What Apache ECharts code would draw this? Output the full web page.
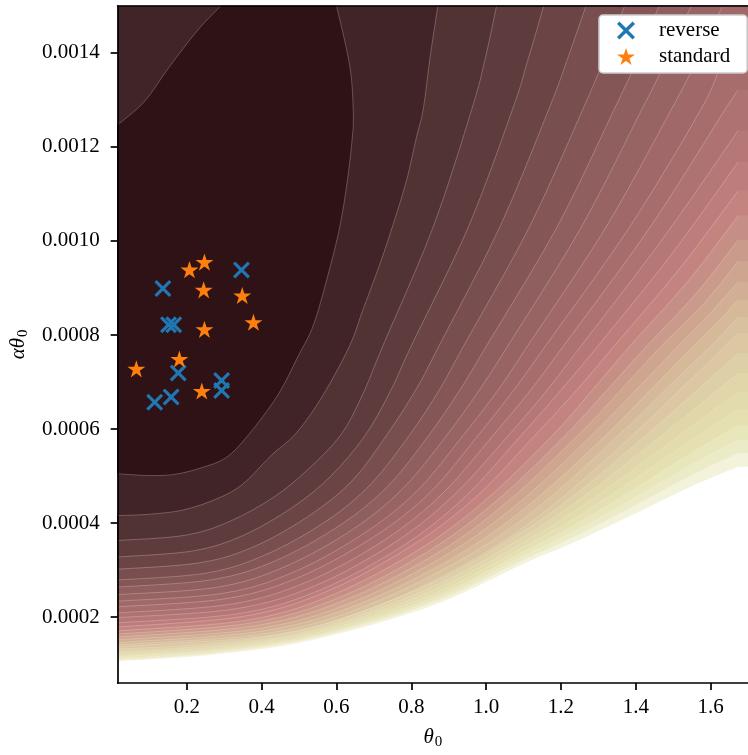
<!DOCTYPE html>
<html><head><meta charset="utf-8">
<script src="https://cdn.jsdelivr.net/npm/echarts@6/dist/echarts.min.js"></script>
<style>html,body{margin:0;padding:0;background:#fff}#c{width:748px;height:755px}</style>
</head><body><div id="c"></div>
<script>
// ---- tick labels ----
const xTicks = [0.2, 0.4, 0.6, 0.8, 1.0, 1.2, 1.4, 1.6];
const yTicks = [0.0002, 0.0004, 0.0006, 0.0008, 0.0010, 0.0012, 0.0014];

// ---- scatter points (theta0, alpha*theta0) ----
const reverseTheta = [0.136, 0.346, 0.151, 0.165, 0.177, 0.114, 0.158, 0.293, 0.293];
const reverseAlpha = [0.000899, 0.000938, 0.000822, 0.000822, 0.000719, 0.000657, 0.000668, 0.000703, 0.000682];
const standardTheta = [0.207, 0.247, 0.245, 0.348, 0.378, 0.247, 0.180, 0.065, 0.240];
const standardAlpha = [0.000939, 0.000955, 0.000896, 0.000884, 0.000827, 0.000812, 0.000749, 0.000728, 0.000681];

// ---- contour level boundaries: [theta0, alpha*theta0] ----
const level01 = [[0.015,0.000505],[0.104,0.000501],[0.170,0.000504],[0.236,0.000517],[0.304,0.000539],[0.364,0.000587],[0.443,0.000672],[0.498,0.000756],[0.540,0.000825],[0.585,0.000951],[0.611,0.001039],[0.629,0.001128],[0.642,0.001218],[0.645,0.001266],[0.640,0.001344],[0.627,0.001407],[0.600,0.0015]];
const level01Corner = [[0.291,0.0015],[0.230,0.001449],[0.154,0.001371],[0.086,0.001296],[0.015,0.001247]];
const level02 = [[0.015,0.000416],[0.102,0.000419],[0.191,0.000428],[0.278,0.000451],[0.348,0.000482],[0.427,0.000545],[0.493,0.000592],[0.564,0.000672],[0.635,0.000777],[0.669,0.000850],[0.716,0.000951],[0.753,0.001039],[0.787,0.001128],[0.813,0.001218],[0.832,0.001281],[0.850,0.001390],[0.871,0.0015]];
const level03 = [[0.015,0.000363],[0.194,0.000374],[0.313,0.000403],[0.432,0.000455],[0.522,0.000513],[0.611,0.000587],[0.669,0.000672],[0.724,0.000777],[0.858,0.001029],[0.962,0.001281],[0.997,0.001386],[1.028,0.0015]];
const level04 = [[0.015,0.000328],[0.217,0.000341],[0.351,0.000374],[0.485,0.000435],[0.586,0.000501],[0.677,0.000587],[0.745,0.000682],[0.800,0.000777],[0.952,0.001029],[1.071,0.001281],[1.112,0.001386],[1.154,0.0015]];
const level05 = [[0.015,0.000302],[0.237,0.000316],[0.385,0.000352],[0.533,0.000419],[0.644,0.000492],[0.734,0.000587],[0.811,0.000682],[0.874,0.000777],[1.036,0.001029],[1.168,0.001281],[1.217,0.001386],[1.267,0.0015]];
const level06 = [[0.015,0.000279],[0.254,0.000294],[0.414,0.000334],[0.574,0.000405],[0.693,0.000484],[0.795,0.000587],[0.874,0.000682],[0.940,0.000777],[1.115,0.001029],[1.259,0.001281],[1.315,0.001386],[1.370,0.0015]];
const level07 = [[0.015,0.000264],[0.270,0.000280],[0.440,0.000321],[0.610,0.000396],[0.738,0.000479],[0.847,0.000587],[0.929,0.000682],[1.001,0.000777],[1.189,0.001029],[1.343,0.001281],[1.404,0.001386],[1.462,0.0015]];
const level08 = [[0.015,0.000248],[0.284,0.000264],[0.464,0.000308],[0.644,0.000387],[0.778,0.000474],[0.895,0.000587],[0.981,0.000682],[1.058,0.000777],[1.254,0.001029],[1.417,0.001281],[1.483,0.001386],[1.548,0.0015]];
const level09 = [[0.015,0.000234],[0.298,0.000251],[0.486,0.000296],[0.675,0.000379],[0.816,0.000469],[0.939,0.000587],[1.031,0.000682],[1.111,0.000777],[1.320,0.001029],[1.496,0.001281],[1.564,0.001386],[1.632,0.0015]];
const level10 = [[0.015,0.000222],[0.310,0.000240],[0.506,0.000287],[0.702,0.000372],[0.850,0.000465],[0.979,0.000587],[1.073,0.000682],[1.159,0.000777],[1.383,0.001029],[1.575,0.001281],[1.627,0.001373],[1.674,0.001437]];
const level11 = [[0.015,0.000209],[0.321,0.000228],[0.524,0.000276],[0.728,0.000364],[0.881,0.000461],[1.019,0.000587],[1.118,0.000682],[1.207,0.000777],[1.438,0.001029],[1.640,0.001281],[1.674,0.001321]];
const level12 = [[0.015,0.000199],[0.332,0.000218],[0.543,0.000267],[0.754,0.000358],[0.912,0.000458],[1.060,0.000587],[1.162,0.000682],[1.254,0.000777],[1.475,0.001008],[1.674,0.001235]];
const level13 = [[0.015,0.000188],[0.342,0.000208],[0.560,0.000259],[0.778,0.000352],[0.941,0.000454],[1.094,0.000587],[1.199,0.000682],[1.299,0.000777],[1.496,0.000972],[1.674,0.001168]];
const level14 = [[0.015,0.000179],[0.353,0.000202],[0.578,0.000256],[0.803,0.000353],[0.972,0.000455],[1.131,0.000587],[1.241,0.000682],[1.343,0.000777],[1.519,0.000943],[1.674,0.001107]];
const level15 = [[0.015,0.000171],[0.364,0.000194],[0.597,0.000250],[0.829,0.000348],[1.004,0.000453],[1.178,0.000587],[1.283,0.000682],[1.385,0.000777],[1.540,0.000915],[1.674,0.001054]];
const level16 = [[0.015,0.000164],[0.374,0.000188],[0.614,0.000244],[0.853,0.000344],[1.033,0.000451],[1.212,0.000587],[1.322,0.000682],[1.430,0.000777],[1.561,0.000888],[1.674,0.001002]];
const level17 = [[0.015,0.000158],[0.384,0.000182],[0.631,0.000239],[0.877,0.000340],[1.062,0.000449],[1.246,0.000587],[1.359,0.000682],[1.469,0.000777],[1.582,0.000867],[1.674,0.000957]];
const level18 = [[0.015,0.000152],[0.395,0.000176],[0.649,0.000234],[0.903,0.000337],[1.093,0.000447],[1.283,0.000587],[1.399,0.000682],[1.514,0.000777],[1.601,0.000848],[1.674,0.000913]];
const level19 = [[0.015,0.000146],[0.406,0.000171],[0.667,0.000230],[0.928,0.000334],[1.124,0.000445],[1.320,0.000587],[1.438,0.000682],[1.556,0.000777],[1.619,0.000827],[1.674,0.000875]];
const level20 = [[0.015,0.000141],[0.417,0.000166],[0.684,0.000226],[0.952,0.000331],[1.153,0.000443],[1.354,0.000587],[1.477,0.000682],[1.601,0.000777],[1.674,0.000838]];
const level21 = [[0.015,0.000137],[0.428,0.000162],[0.703,0.000222],[0.978,0.000328],[1.184,0.000442],[1.391,0.000587],[1.522,0.000686],[1.640,0.000777],[1.674,0.000804]];
// outer (thin, pale) levels share the same theta0 columns
const outerTheta = [0.015, 0.278, 0.540, 0.855, 1.102, 1.233, 1.364, 1.548, 1.674];
const level22Alpha = [0.000132,0.000145,0.000179,0.000272,0.000384,0.000458,0.000544,0.000671,0.000761];
const level23Alpha = [0.000127,0.000141,0.000174,0.000264,0.000372,0.000441,0.000520,0.000637,0.000719];
const level24Alpha = [0.000123,0.000137,0.000170,0.000256,0.000360,0.000424,0.000497,0.000605,0.000679];
const level25Alpha = [0.000119,0.000133,0.000166,0.000248,0.000350,0.000409,0.000476,0.000576,0.000642];
const level26Alpha = [0.000116,0.000130,0.000162,0.000241,0.000340,0.000395,0.000457,0.000549,0.000608];
const level27Alpha = [0.000112,0.000127,0.000159,0.000235,0.000331,0.000382,0.000439,0.000524,0.000577];
const level28Alpha = [0.000109,0.000124,0.000156,0.000230,0.000322,0.000370,0.000423,0.000501,0.000549];
const level29Alpha = [0.000106,0.000121,0.000152,0.000224,0.000314,0.000358,0.000407,0.000478,0.000520];

// ---- styles ----
const bandColors = ['#2e1215','#513334','#5e3c3d','#6b4545','#784e4e','#845656','#8f5e5e','#986363','#a06868','#a76d6d',
  '#ae7272','#b67777','#be7d7d','#c38480','#c68f85','#ca9a8a','#cea58f','#d2af94','#d5b999','#d8c19e',
  '#dbc8a2','#ddcfa6','#e0d6aa','#e2dbad','#e4e0b1','#e8e6bb','#ecebc7','#f3f3dc','#ffffff'];
const FONT = 'Liberation Serif';
const X_PATH = 'path://M0,13.3L13.3,0L50,36.7L86.7,0L100,13.3L63.3,50L100,86.7L86.7,100L50,63.3L13.3,100L0,86.7L36.7,50Z';
const STAR_PATH = 'path://M50,0L61.23,34.55L97.55,34.55L68.17,55.9L79.39,90.45L50,69.1L20.61,90.45L31.83,55.9L2.45,34.55L38.77,34.55Z';

// ---- assemble ----
const pairs = (xs, ys) => xs.map((x, i) => [x, ys[i]]);
const outerLevels = [level22Alpha, level23Alpha, level24Alpha, level25Alpha, level26Alpha, level27Alpha, level28Alpha, level29Alpha].map(a => pairs(outerTheta, a));
const levels = [level02, level03, level04, level05, level06, level07, level08, level09, level10, level11,
  level12, level13, level14, level15, level16, level17, level18, level19, level20, level21].concat(outerLevels);

function segs(p) {
  let d = '';
  for (let i = 0; i < p.length - 1; i++) {
    const p0 = p[i - 1] || p[i], p1 = p[i], p2 = p[i + 1], p3 = p[i + 2] || p[i + 1];
    const c1x = p1[0] + (p2[0] - p0[0]) / 6, c1y = p1[1] + (p2[1] - p0[1]) / 6;
    const c2x = p2[0] - (p3[0] - p1[0]) / 6, c2y = p2[1] - (p3[1] - p1[1]) / 6;
    d += 'C' + c1x.toFixed(2) + ',' + c1y.toFixed(2) + ',' + c2x.toFixed(2) + ',' + c2y.toFixed(2) + ',' + p2[0].toFixed(2) + ',' + p2[1].toFixed(2);
  }
  return d;
}
const M = p => 'M' + p[0].toFixed(2) + ',' + p[1].toFixed(2);
const Lp = (x, y) => 'L' + x.toFixed(2) + ',' + y.toFixed(2);

function darkPath(api, cs) {
  const a = level01.map(p => api.coord(p)), b = level01Corner.map(p => api.coord(p));
  const T = cs.y - 30, L = cs.x - 30;
  let d = M(a[0]) + segs(a);
  d += Lp(a[a.length - 1][0], T) + Lp(b[0][0], T) + Lp(b[0][0], b[0][1]) + segs(b);
  d += Lp(L, b[b.length - 1][1]) + Lp(L, a[0][1]) + 'Z';
  return d;
}
function regionPath(api, cs, curve) {
  const p = curve.map(q => api.coord(q));
  const L = cs.x - 40, R = cs.x + cs.width + 40, T = cs.y - 40, B = cs.y + cs.height + 40;
  const first = p[0], last = p[p.length - 1];
  let d = Lp(L, B).replace('L', 'M') + Lp(L, first[1]) + Lp(first[0], first[1]) + segs(p);
  if (last[1] <= cs.y + 1) d += Lp(last[0], T) + Lp(R, T);
  else d += Lp(R, last[1]);
  d += Lp(R, B) + 'Z';
  return d;
}
const strokeCurves = [level01, level01Corner].concat(levels.slice(0, levels.length - 1));

const chart = echarts.init(document.getElementById('c'), null, {renderer: 'canvas', width: 748, height: 755});
const axisLineStyle = {color: '#000', width: 1.7};
chart.setOption({
  animation: false,
  textStyle: {fontFamily: FONT},
  grid: {left: 116, right: -9.8, top: 5.8, bottom: 64, show: true, backgroundColor: '#402427', borderWidth: 0},
  legend: {
    orient: 'vertical', left: 599, top: 15, selectedMode: false,
    data: [{name: 'reverse', icon: X_PATH}, {name: 'standard', icon: STAR_PATH}],
    itemWidth: 18, itemHeight: 18, itemGap: 5,
    padding: [5, 17, 6, 18],
    backgroundColor: '#ffffff', borderColor: '#cccccc', borderWidth: 1.5, borderRadius: 4,
    textStyle: {fontFamily: FONT, fontSize: 21, color: '#000', padding: [0, 0, 0, 19], lineHeight: 21}
  },
  xAxis: [{
    type: 'value', min: 0.015, max: 1.7, position: 'bottom', z: 10,
    axisLine: {show: true, onZero: false, lineStyle: axisLineStyle},
    axisTick: {show: true, inside: false, length: 7, lineStyle: axisLineStyle, customValues: xTicks},
    axisLabel: {margin: 14, color: '#000', fontFamily: FONT, fontSize: 21, customValues: xTicks, formatter: v => v.toFixed(1)},
    splitLine: {show: false},
    name: '{i|θ}{s|0}', nameLocation: 'middle', nameGap: 42,
    nameTextStyle: {rich: {
      i: {fontFamily: FONT, fontStyle: 'italic', fontSize: 21, color: '#000'},
      s: {fontFamily: FONT, fontSize: 15, color: '#000', padding: [10, 0, 0, 1]}
    }}
  }, {
    type: 'value', min: 0.015, max: 1.7, position: 'top', z: 10,
    axisLine: {show: true, onZero: false, lineStyle: axisLineStyle},
    axisTick: {show: false}, axisLabel: {show: false}, splitLine: {show: false}
  }],
  yAxis: {
    type: 'value', min: 0.00006, max: 0.0015, z: 10,
    axisLine: {show: true, onZero: false, lineStyle: axisLineStyle},
    axisTick: {show: true, inside: false, length: 7, lineStyle: axisLineStyle, customValues: yTicks},
    axisLabel: {margin: 18, color: '#000', fontFamily: FONT, fontSize: 21, customValues: yTicks, formatter: v => v.toFixed(4)},
    splitLine: {show: false},
    name: '{i|αθ}{s|0}', nameLocation: 'middle', nameGap: 85, nameRotate: 90,
    nameTextStyle: {rich: {
      i: {fontFamily: FONT, fontStyle: 'italic', fontSize: 21, color: '#000'},
      s: {fontFamily: FONT, fontSize: 15, color: '#000', padding: [10, 0, 0, 1]}
    }}
  },
  series: [{
    type: 'custom', coordinateSystem: 'cartesian2d', xAxisIndex: 0, clip: true, silent: true, z: 1,
    data: bandColors.map((c, i) => [i]),
    renderItem: (params, api) => {
      const i = params.dataIndex, cs = params.coordSys;
      const d = i === 0 ? darkPath(api, cs) : regionPath(api, cs, levels[i - 1]);
      return {type: 'path', z2: i, shape: {pathData: d}, style: {fill: bandColors[i], stroke: null}};
    }
  }, {
    type: 'custom', coordinateSystem: 'cartesian2d', xAxisIndex: 0, clip: true, silent: true, z: 2,
    data: strokeCurves.map((c, i) => [i]),
    renderItem: (params, api) => {
      const p = strokeCurves[params.dataIndex].map(q => api.coord(q));
      return {type: 'path', shape: {pathData: M(p[0]) + segs(p)}, style: {fill: 'none', stroke: 'rgba(255,236,236,0.33)', lineWidth: 0.8}};
    }
  }, {
    type: 'scatter', name: 'reverse', xAxisIndex: 0, z: 10, silent: true,
    data: pairs(reverseTheta, reverseAlpha),
    symbol: X_PATH, symbolSize: 17, itemStyle: {color: '#1f77b4', opacity: 1}, emphasis: {disabled: true}
  }, {
    type: 'scatter', name: 'standard', xAxisIndex: 0, z: 10, silent: true,
    data: pairs(standardTheta, standardAlpha),
    symbol: STAR_PATH, symbolSize: 18, symbolKeepAspect: true, itemStyle: {color: '#ff7f0e', opacity: 1}, emphasis: {disabled: true}
  }]
});
</script>
</body></html>
